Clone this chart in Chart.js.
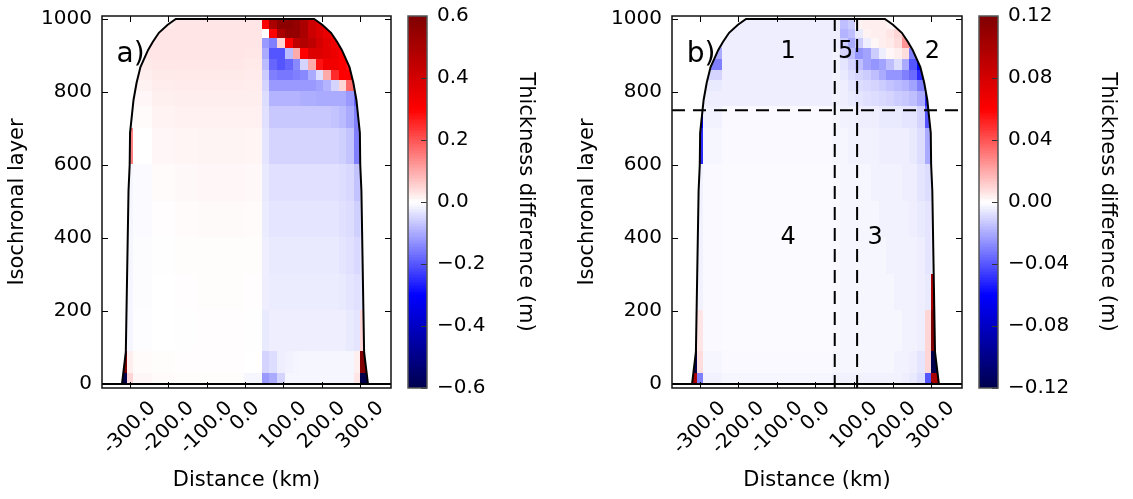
<!DOCTYPE html>
<html>
<head>
<meta charset="utf-8">
<script src="https://cdn.jsdelivr.net/npm/chart.js@4.4.1/dist/chart.umd.min.js"></script>
<style>
  html, body { margin: 0; padding: 0; background: #fff; }
  #wrap { position: relative; width: 1133px; height: 499px; }
  canvas { position: absolute; top: 0; }
</style>
</head>
<body>
<div id="wrap">
  <canvas id="panelA" width="400" height="499" style="left:0px"></canvas>
  <canvas id="cbarA" width="150" height="499" style="left:400px"></canvas>
  <canvas id="panelB" width="400" height="499" style="left:570px"></canvas>
  <canvas id="cbarB" width="163" height="499" style="left:970px"></canvas>
</div>
<script>
const FONT = "'DejaVu Sans', sans-serif";

// axes
const distanceMin = -372;
const distanceMax = 380;
const layerMin = -11;
const layerMax = 1008;
const distanceTicks = [-300, -200, -100, 0, 100, 200, 300];
const distanceLabels = ['-300.0', '-200.0', '-100.0', '0.0', '100.0', '200.0', '300.0'];
const layerTicks = [0, 200, 400, 600, 800, 1000];
const cbarTicksA = [-0.6, -0.4, -0.2, 0, 0.2, 0.4, 0.6];
const cbarTicksB = [-0.12, -0.08, -0.04, 0, 0.04, 0.08, 0.12];

// grid of the section (column edges in km, row edges in layers, top row first)
const distanceEdges = [-330, -305, -290, -240, -180, -120, -60, 0, 45, 65, 85, 105, 125, 145, 165, 185, 205, 225, 245, 265, 285, 300, 330];
const layerEdges = [1000, 970, 945, 920, 890, 860, 830, 800, 760, 700, 600, 500, 400, 300, 200, 90, 30, 0];

// ice sheet outline
const outlineKm = [-320, -310, -303, -300, -299, -290, -282, -272, -252, -240, -224, -201, -180,
                   180, 201, 224, 240, 252, 272, 282, 290, 299, 300, 303, 310, 320];
const outlineLayer = [0, 88, 530, 600, 688, 778, 825, 868, 915, 937, 962, 984, 1000,
                      1000, 984, 962, 937, 915, 868, 825, 778, 688, 600, 530, 88, 0];

// thickness difference (m), panel a
const diffA = [
  [0, 0, 0.01, 0.025, 0.03, 0.03, 0.03, 0.03, 0.30, 0.50, 0.57, 0.57, 0.55, 0.50, 0.42, 0.38, 0.35, 0.32, 0.30, 0.30, 0.30, 0.30],
  [0, 0, 0.02, 0.03, 0.03, 0.03, 0.03, 0.03, 0.0, 0.30, 0.50, 0.55, 0.55, 0.50, 0.42, 0.38, 0.35, 0.32, 0.30, 0.30, 0.30, 0.30],
  [0, 0.01, 0.025, 0.03, 0.03, 0.03, 0.03, 0.03, -0.12, -0.15, 0.05, 0.30, 0.45, 0.48, 0.45, 0.40, 0.36, 0.33, 0.30, 0.30, 0.30, 0.30],
  [0, 0.02, 0.03, 0.03, 0.03, 0.03, 0.03, 0.028, -0.10, -0.20, -0.20, -0.08, 0.10, 0.30, 0.38, 0.38, 0.36, 0.34, 0.30, 0.28, 0.28, 0.28],
  [0, 0.02, 0.025, 0.028, 0.028, 0.028, 0.028, 0.026, -0.08, -0.18, -0.20, -0.18, -0.14, -0.05, 0.10, 0.28, 0.33, 0.33, 0.30, 0.28, 0.28, 0.28],
  [0, 0.01, 0.02, 0.025, 0.026, 0.026, 0.025, 0.024, -0.06, -0.15, -0.16, -0.16, -0.15, -0.14, -0.10, -0.04, 0.10, 0.25, 0.30, 0.30, 0.25, 0.25],
  [0, 0, 0.015, 0.022, 0.024, 0.024, 0.023, 0.022, -0.05, -0.12, -0.12, -0.12, -0.12, -0.12, -0.12, -0.11, -0.09, -0.05, 0.05, 0.18, 0.22, 0.15],
  [0, -0.01, 0.01, 0.018, 0.02, 0.02, 0.02, 0.02, -0.04, -0.09, -0.09, -0.09, -0.09, -0.095, -0.095, -0.10, -0.10, -0.10, -0.10, -0.12, -0.18, 0.20],
  [0, -0.01, 0.005, 0.014, 0.016, 0.017, 0.017, 0.016, -0.035, -0.065, -0.065, -0.065, -0.065, -0.065, -0.065, -0.065, -0.065, -0.07, -0.08, -0.10, -0.15, -0.10],
  [0, 0.15, 0.0, 0.01, 0.012, 0.013, 0.013, 0.012, -0.03, -0.05, -0.05, -0.05, -0.05, -0.05, -0.05, -0.05, -0.05, -0.05, -0.055, -0.07, -0.15, 0.30],
  [0, -0.01, -0.005, 0.005, 0.008, 0.009, 0.009, 0.008, -0.025, -0.035, -0.035, -0.035, -0.035, -0.035, -0.035, -0.035, -0.035, -0.035, -0.04, -0.045, -0.07, -0.05],
  [0, -0.01, -0.005, 0.002, 0.005, 0.006, 0.006, 0.005, -0.022, -0.03, -0.03, -0.03, -0.03, -0.03, -0.03, -0.03, -0.03, -0.03, -0.035, -0.04, -0.055, -0.04],
  [0, -0.01, -0.004, 0.001, 0.003, 0.004, 0.004, 0.003, -0.02, -0.025, -0.025, -0.025, -0.025, -0.025, -0.025, -0.025, -0.025, -0.025, -0.03, -0.035, -0.045, -0.03],
  [0, -0.01, -0.003, 0, 0.002, 0.003, 0.003, 0.002, -0.02, -0.022, -0.022, -0.022, -0.022, -0.022, -0.022, -0.022, -0.022, -0.022, -0.025, -0.03, -0.035, -0.03],
  [0.05, -0.01, -0.002, 0, 0.001, 0.002, 0.002, 0.001, -0.025, -0.02, -0.02, -0.02, -0.02, -0.02, -0.02, -0.02, -0.02, -0.02, -0.02, -0.025, -0.03, 0.05],
  [0.6, 0.02, 0.005, 0.003, 0.002, 0.002, 0.002, 0, -0.05, -0.04, -0.02, -0.015, -0.012, -0.01, -0.01, -0.01, -0.01, -0.01, -0.01, -0.01, 0.02, 0.6],
  [-0.6, 0.05, 0.01, 0.005, 0.004, 0.003, 0.003, -0.01, -0.12, -0.10, -0.05, -0.01, -0.01, -0.01, -0.01, -0.01, -0.01, -0.01, -0.01, -0.01, 0.03, -0.6]
];

// thickness difference (m), panel b
const diffB = [
  [0, 0, -0.004, -0.004, -0.004, -0.004, -0.004, -0.004, -0.004, -0.015, -0.012, 0.003, 0.004, 0.004, 0.004, 0.003, 0.003, 0.003, 0, 0, 0, 0],
  [0, 0, -0.006, -0.004, -0.004, -0.004, -0.004, -0.004, -0.004, -0.018, -0.015, -0.005, 0.003, 0.004, 0.004, 0.006, 0.01, 0.02, 0.02, 0, 0, 0],
  [0, -0.01, -0.01, -0.004, -0.004, -0.004, -0.004, -0.004, -0.004, -0.012, -0.02, -0.012, -0.004, 0.002, 0.004, 0.005, 0.008, 0.025, 0.02, 0, 0, 0],
  [0, -0.03, -0.02, -0.004, -0.004, -0.004, -0.004, -0.004, -0.003, -0.01, -0.015, -0.025, -0.022, -0.012, -0.004, 0.002, 0.004, 0.008, -0.03, -0.05, 0, 0],
  [0, -0.06, -0.03, -0.004, -0.004, -0.004, -0.004, -0.004, -0.003, -0.006, -0.01, -0.015, -0.022, -0.025, -0.022, -0.015, -0.008, -0.02, -0.04, -0.06, 0, 0],
  [0, -0.06, -0.01, -0.004, -0.004, -0.004, -0.004, -0.004, -0.003, -0.005, -0.008, -0.01, -0.012, -0.015, -0.02, -0.025, -0.025, -0.03, -0.035, -0.05, -0.08, 0],
  [0, -0.04, -0.005, -0.004, -0.004, -0.004, -0.004, -0.004, -0.003, -0.004, -0.006, -0.008, -0.009, -0.01, -0.012, -0.014, -0.016, -0.018, -0.022, -0.03, -0.06, 0.05],
  [-0.1, -0.03, -0.004, -0.004, -0.004, -0.004, -0.004, -0.004, -0.003, -0.004, -0.005, -0.006, -0.007, -0.008, -0.009, -0.01, -0.012, -0.013, -0.015, -0.02, -0.05, -0.1],
  [-0.08, -0.06, -0.003, -0.0015, -0.0015, -0.0015, -0.0015, -0.0015, -0.002, -0.003, -0.003, -0.004, -0.004, -0.004, -0.005, -0.005, -0.005, -0.006, -0.006, -0.01, -0.04, -0.1],
  [0, -0.05, -0.002, -0.0015, -0.0015, -0.0015, -0.0015, -0.0015, -0.002, -0.002, -0.003, -0.003, -0.003, -0.003, -0.004, -0.004, -0.004, -0.004, -0.005, -0.008, -0.02, -0.08],
  [0, -0.003, -0.0015, -0.001, -0.001, -0.001, -0.001, -0.001, -0.0015, -0.002, -0.002, -0.002, -0.002, -0.003, -0.003, -0.003, -0.003, -0.004, -0.004, -0.006, -0.008, -0.004],
  [0, -0.003, -0.0015, -0.001, -0.001, -0.001, -0.001, -0.001, -0.0015, -0.002, -0.002, -0.002, -0.002, -0.002, -0.003, -0.003, -0.003, -0.003, -0.004, -0.005, -0.006, -0.004],
  [0, -0.003, -0.0015, -0.001, -0.001, -0.001, -0.001, -0.001, -0.0015, -0.002, -0.002, -0.002, -0.002, -0.002, -0.002, -0.003, -0.003, -0.003, -0.003, -0.004, -0.006, -0.004],
  [0, -0.003, -0.0015, -0.001, -0.001, -0.001, -0.001, -0.001, -0.0015, -0.002, -0.002, -0.002, -0.002, -0.002, -0.002, -0.002, -0.003, -0.003, -0.003, -0.004, -0.005, 0.1],
  [0.12, 0.006, -0.0015, -0.001, -0.001, -0.001, -0.001, -0.001, -0.0015, -0.002, -0.002, -0.002, -0.002, -0.002, -0.002, -0.002, -0.002, -0.003, -0.003, -0.004, 0.01, 0.12],
  [-0.12, 0.008, -0.002, -0.0015, -0.0015, -0.0015, -0.0015, -0.0015, -0.002, -0.002, -0.002, -0.002, -0.002, -0.002, -0.002, -0.002, -0.003, -0.003, -0.004, -0.006, 0.01, -0.12],
  [0.1, -0.03, -0.003, -0.002, -0.002, -0.002, -0.002, -0.002, -0.003, -0.003, -0.003, -0.003, -0.003, -0.003, -0.003, -0.003, -0.003, -0.004, -0.005, -0.008, -0.04, 0.1]
];

// panel b sub-regions
const dividerKm = [50, 108];
const dividerLayer = 750;
const regionNames = ['1', '5', '2', '4', '3'];
const regionKm = [-71, 78, 303, -71, 155];
const regionLayer = [910, 910, 910, 400, 400];

// matplotlib "seismic"
function seismic(v, vmax) {
  let t = Math.max(0, Math.min(1, (v / vmax + 1) / 2));
  const stops = [[0, 0, 0.3], [0, 0, 1], [1, 1, 1], [1, 0, 0], [0.5, 0, 0]];
  const s = t * 4, i = Math.min(3, Math.floor(s)), f = s - i;
  const c = stops[i].map((a, k) => Math.round(255 * (a + (stops[i + 1][k] - a) * f)));
  return `rgb(${c[0]},${c[1]},${c[2]})`;
}

function line(points, dash) {
  return {
    data: points, showLine: true, borderColor: '#000', borderWidth: 2,
    borderDash: dash || [], pointRadius: 0, fill: false, tension: 0
  };
}

// drop the label overhang padding so the plot box sits where we put it
function noOverhang(s) {
  s.paddingTop = 0; s.paddingBottom = 0; s.paddingLeft = 0; s.paddingRight = 0;
}

const heatmapPlugin = {
  id: 'heatmap',
  beforeDatasetsDraw(chart, args, opts) {
    const { ctx, chartArea: a, scales: { x, y } } = chart;
    ctx.save();
    ctx.beginPath();
    ctx.rect(a.left, a.top, a.width, a.height);
    ctx.clip();
    ctx.beginPath();
    outlineKm.forEach((k, i) => {
      const px = x.getPixelForValue(k), py = y.getPixelForValue(outlineLayer[i]);
      if (i) ctx.lineTo(px, py); else ctx.moveTo(px, py);
    });
    ctx.closePath();
    ctx.clip();
    opts.values.forEach((row, r) => {
      const y0 = Math.floor(y.getPixelForValue(layerEdges[r]));
      const y1 = Math.ceil(y.getPixelForValue(layerEdges[r + 1]));
      row.forEach((v, c) => {
        const x0 = Math.floor(x.getPixelForValue(distanceEdges[c]));
        const x1 = Math.ceil(x.getPixelForValue(distanceEdges[c + 1]));
        ctx.fillStyle = seismic(v, opts.vmax);
        ctx.fillRect(x0, y0, x1 - x0, y1 - y0);
      });
    });
    ctx.restore();
  },
  afterDraw(chart, args, opts) {
    const { ctx, chartArea: a, scales: { x, y } } = chart;
    ctx.save();
    // ticks pointing in, all four sides
    ctx.strokeStyle = '#000';
    ctx.lineWidth = 1;
    ctx.beginPath();
    distanceTicks.forEach(v => {
      const px = Math.round(x.getPixelForValue(v)) + 0.5;
      ctx.moveTo(px, a.bottom); ctx.lineTo(px, a.bottom - 6);
      ctx.moveTo(px, a.top); ctx.lineTo(px, a.top + 6);
    });
    layerTicks.forEach(v => {
      const py = Math.round(y.getPixelForValue(v)) + 0.5;
      ctx.moveTo(a.left, py); ctx.lineTo(a.left + 6, py);
      ctx.moveTo(a.right, py); ctx.lineTo(a.right - 6, py);
    });
    ctx.stroke();
    // frame
    ctx.lineWidth = 1.5;
    ctx.strokeStyle = '#111';
    ctx.strokeRect(a.left, a.top, a.width, a.height);

    // rotated distance labels, centred on their ticks
    ctx.fillStyle = '#000';
    ctx.font = '20px ' + FONT;
    ctx.textAlign = 'center';
    ctx.textBaseline = 'middle';
    distanceTicks.forEach((v, i) => {
      const w = ctx.measureText(distanceLabels[i]).width, h = 23;
      const cx = x.getPixelForValue(v);
      const cy = a.bottom + 9 + (w + h) * Math.SQRT1_2 / 2;
      ctx.save();
      ctx.translate(cx, cy);
      ctx.rotate(-Math.PI / 4);
      ctx.fillText(distanceLabels[i], 0, 0);
      ctx.restore();
    });

    // panel letter
    ctx.font = '28px ' + FONT;
    ctx.textAlign = 'left';
    ctx.textBaseline = 'alphabetic';
    ctx.fillText(opts.label, x.getPixelForValue(-334), y.getPixelForValue(882));

    if (opts.regions) {
      ctx.font = '24px ' + FONT;
      ctx.textAlign = 'center';
      ctx.textBaseline = 'middle';
      regionNames.forEach((n, i) => {
        ctx.fillText(n, x.getPixelForValue(regionKm[i]), y.getPixelForValue(regionLayer[i]));
      });
    }
    ctx.restore();
  }
};

const colorbarPlugin = {
  id: 'colorbar',
  beforeDatasetsDraw(chart, args, opts) {
    const { ctx, chartArea: a, scales: { y } } = chart;
    const n = 240;
    for (let i = 0; i < n; i++) {
      const v0 = -opts.vmax + 2 * opts.vmax * i / n;
      const v1 = -opts.vmax + 2 * opts.vmax * (i + 1) / n;
      const p0 = y.getPixelForValue(v0), p1 = y.getPixelForValue(v1);
      ctx.fillStyle = seismic((v0 + v1) / 2, opts.vmax);
      ctx.fillRect(a.left, Math.floor(p1), a.width, Math.ceil(p0) - Math.floor(p1));
    }
  },
  afterDraw(chart, args, opts) {
    const { ctx, chartArea: a, scales: { y } } = chart;
    ctx.save();
    ctx.strokeStyle = '#333';
    ctx.lineWidth = 1;
    ctx.beginPath();
    opts.ticks.forEach(v => {
      const py = Math.round(y.getPixelForValue(v)) + 0.5;
      ctx.moveTo(a.right, py); ctx.lineTo(a.right - 6, py);
    });
    ctx.stroke();
    ctx.lineWidth = 1.5;
    ctx.strokeStyle = '#555';
    ctx.strokeRect(a.left, a.top, a.width, a.height);
    ctx.restore();
  }
};

function makePanel(id, values, vmax, label, regions) {
  const datasets = [
    line(outlineKm.map((k, i) => ({ x: k, y: outlineLayer[i] }))),
    line([{ x: distanceMin, y: 0 }, { x: distanceMax, y: 0 }])
  ];
  if (regions) {
    datasets.push(line([{ x: distanceMin, y: dividerLayer }, { x: distanceMax, y: dividerLayer }], [13, 8]));
    dividerKm.forEach(k => datasets.push(line([{ x: k, y: layerMin }, { x: k, y: layerMax }], [13, 8])));
  }
  return new Chart(document.getElementById(id), {
    type: 'scatter',
    data: { datasets },
    plugins: [heatmapPlugin],
    options: {
      responsive: false,
      animation: false,
      devicePixelRatio: 1,
      layout: { padding: { left: 0, top: 16, right: id === 'panelA' ? 9 : 8, bottom: 0 } },
      plugins: {
        legend: { display: false },
        tooltip: { enabled: false },
        heatmap: { values, vmax, label, regions }
      },
      scales: {
        x: {
          type: 'linear', min: distanceMin, max: distanceMax,
          afterBuildTicks: s => { s.ticks = distanceTicks.map(v => ({ value: v })); },
          afterFit: s => { s.height = 111; noOverhang(s); },
          ticks: { display: false },
          grid: { display: false, drawTicks: false },
          border: { display: false },
          title: { display: true, text: 'Distance (km)', color: '#000',
                   font: { family: FONT, size: 21 }, padding: { top: 0, bottom: 6 } }
        },
        y: {
          type: 'linear', min: layerMin, max: layerMax,
          afterBuildTicks: s => { s.ticks = layerTicks.map(v => ({ value: v })); },
          afterFit: s => { s.width = 102; noOverhang(s); },
          ticks: { color: '#000', font: { family: FONT, size: 20 }, padding: 10,
                   callback: v => String(v) },
          grid: { display: false, drawTicks: false },
          border: { display: false },
          title: { display: true, text: 'Isochronal layer', color: '#000',
                   font: { family: FONT, size: 21 }, padding: { top: 5, bottom: 0 } }
        }
      }
    }
  });
}

function makeColorbar(id, vmax, ticks, decimals, width, left, titlePad) {
  return new Chart(document.getElementById(id), {
    type: 'scatter',
    data: { datasets: [] },
    plugins: [colorbarPlugin],
    options: {
      responsive: false,
      animation: false,
      devicePixelRatio: 1,
      layout: { padding: { left, top: 16, right: 0, bottom: 111 } },
      plugins: {
        legend: { display: false },
        tooltip: { enabled: false },
        colorbar: { vmax, ticks }
      },
      scales: {
        x: { display: false, min: 0, max: 1 },
        y: {
          position: 'right', min: -vmax, max: vmax,
          afterBuildTicks: s => { s.ticks = ticks.map(v => ({ value: v })); },
          afterFit: s => { s.width = width; noOverhang(s); },
          ticks: {
            color: '#000', font: { family: FONT, size: 20 }, padding: 10,
            callback: v => (v < -1e-9 ? '\u2212' : '') + Math.abs(v).toFixed(decimals)
          },
          grid: { display: false, drawTicks: false },
          border: { display: false },
          title: { display: true, text: 'Thickness difference (m)', color: '#000',
                   font: { family: FONT, size: 21 }, padding: { top: titlePad, bottom: 0 } }
        }
      }
    }
  });
}

makePanel('panelA', diffA, 0.6, 'a)', false);
makeColorbar('cbarA', 0.6, cbarTicksA, 1, 123, 8, 12);
makePanel('panelB', diffB, 0.12, 'b)', true);
makeColorbar('cbarB', 0.12, cbarTicksB, 2, 135, 9, 13);
</script>
</body>
</html>
